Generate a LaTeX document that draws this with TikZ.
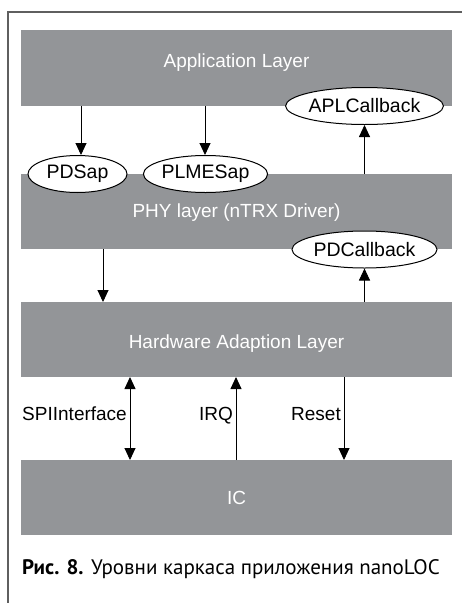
\documentclass[tikz,border=0pt]{standalone}
\usepackage{fontspec}
\setmainfont{Liberation Sans}
\newfontfamily\capfont{PT Sans}
\usetikzlibrary{shapes.geometric,arrows.meta}
\definecolor{layergray}{RGB}{147,149,152}
\definecolor{framegray}{RGB}{95,95,95}
\tikzset{
  layer/.style={fill=layergray, draw=none},
  layertext/.style={text=white, font=\fontsize{19}{22}\selectfont, anchor=base, inner sep=0},
  api/.style={ellipse, draw=black, line width=1pt, fill=white, minimum height=37pt, inner sep=0,
    font=\fontsize{19.5}{22}\selectfont},
  arr/.style={line width=0.9pt, -{Triangle[width=11pt,length=12pt]}},
  darr/.style={line width=0.9pt, {Triangle[width=11pt,length=12pt]}-{Triangle[width=11pt,length=12pt]}},
  sig/.style={font=\fontsize{19}{22}\selectfont, anchor=base east, inner sep=0}
}
\begin{document}
\begin{tikzpicture}[x=1pt,y=-1pt]
\useasboundingbox (0,0) rectangle (462,603);
% frame
\draw[framegray, line width=1.6pt] (8,603) -- (8,12) -- (462,12);
% layers
\fill[layer] (21,30) rectangle (452,106);
\fill[layer] (21,174) rectangle (452,249);
\fill[layer] (21,302) rectangle (452,377);
\fill[layer] (21,460) rectangle (452,535);
\node[layertext] (tapp) at (236.5,67) {Application Layer};
\node[layertext] (tphy) at (236.5,217) {PHY layer (nTRX Driver)};
\node[layertext] (thal) at (236.5,348) {Hardware Adaption Layer};
\node[layertext] (tic) at (236.5,504) {IC};
% anchor coordinates
\coordinate (a1) at (81,106);
\coordinate (a2) at (205,106);
\coordinate (a3) at (364.5,174);
\coordinate (p1) at (103,249);
\coordinate (h1) at (103,302);
\coordinate (h2) at (364.5,302);
\coordinate (hs) at (130,377);
\coordinate (is) at (130,460);
\coordinate (hi) at (236,377);
\coordinate (ii) at (236,460);
\coordinate (hr) at (344,377);
\coordinate (ir) at (344,460);
% ellipses
\node[api, minimum width=99pt] (pdsap) at (77.5,174) {PDSap};
\node[api, minimum width=107pt] (plme) at (205.5,174) {PLMESap};
\node[api, minimum width=145pt] (aplcb) at (364.5,106) {APLCallback};
\node[api, minimum width=145pt] (pdcb) at (364.5,249.5) {PDCallback};
% arrows
\draw[arr] (a1) -- (a1 |- pdsap.north);
\draw[arr] (a2) -- (a2 |- plme.north);
\draw[arr] (a3) -- (aplcb.south);
\draw[arr] (p1) -- (h1);
\draw[arr] (h2) -- (pdcb.south);
\draw[darr] (hs) -- (is);
\draw[arr] (ii) -- (hi);
\draw[arr] (hr) -- (ir);
% signal labels
\node[sig] (lspi) at (127,420) {SPIInterface};
\node[sig] (lirq) at (233,420) {IRQ};
\node[sig] (lrst) at (341,420) {Reset};
% caption
\node[anchor=base west, inner sep=0, font=\capfont\fontsize{21}{25}\selectfont] (cap) at (22,574)
  {\textbf{Рис. 8.} Уровни каркаса приложения nanoLOC};
\end{tikzpicture}
\end{document}
